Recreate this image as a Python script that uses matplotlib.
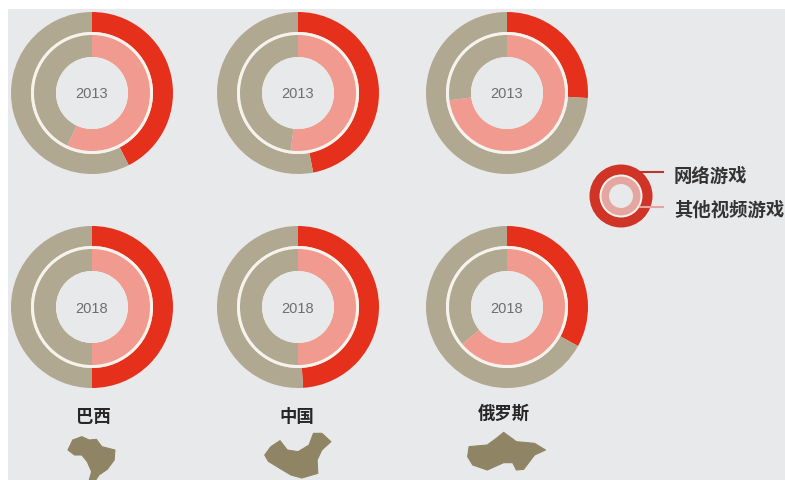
import matplotlib
matplotlib.use('Agg')
import matplotlib.pyplot as plt
from matplotlib.patches import Circle, Polygon, Rectangle

plt.rcParams['font.family'] = ['Noto Sans CJK SC', 'DejaVu Sans']

RED = '#E5301C'
PINK = '#F09A90'
TAN = '#B0A890'
BG = '#E8E9EB'
RING = '#F6F3EC'
MAP = '#8F8565'

# share of the ring, percent
countries = ['巴西', '中国', '俄罗斯']
online_2013 = [42.5, 47, 26]
other_2013 = [57, 52, 73]
online_2018 = [50, 49, 33]
other_2018 = [50, 50, 64]
years = ['2013', '2018']
legend_labels = ['网络游戏', '其他视频游戏']

# outlines of the little maps, in crop pixels (crop is 2.75x wide, 3x high)
brazil = [(187, 180), (200, 150), (225, 140), (245, 150), (265, 148), (280, 170), (316, 180), (314, 210),
          (295, 238), (272, 255), (262, 272), (245, 272), (252, 245), (240, 215), (225, 195), (205, 195)]
china = [(728, 195), (745, 170), (770, 152), (790, 180), (820, 185), (850, 165), (862, 130), (885, 130),
         (910, 155), (885, 180), (872, 210), (874, 250), (830, 264), (800, 255), (765, 232), (738, 214)]
russia = [(1290, 170), (1340, 165), (1365, 145), (1385, 127), (1420, 155), (1470, 160), (1500, 180),
          (1470, 195), (1440, 238), (1420, 240), (1410, 218), (1385, 218), (1340, 240), (1300, 225), (1286, 200)]

W, H = 785, 480
fig = plt.figure(figsize=(W / 100, H / 100), dpi=100)
ax = fig.add_axes([0, 0, 1, 1])


def donut(cx, cy, r_out, r_mid, r_ring, r_in, outer, inner, outer_col=RED):
    # cy is measured from the top of the picture
    y = H - cy
    ax.pie([outer, 100 - outer], colors=[outer_col, TAN], startangle=90, counterclock=False,
           radius=r_out, center=(cx, y), wedgeprops={'width': r_out - r_mid})
    ax.add_patch(Circle((cx, y), r_mid, fc=RING, ec='none', zorder=3))
    ax.pie([inner, 100 - inner], colors=[PINK, TAN], startangle=90, counterclock=False,
           radius=r_ring, center=(cx, y), wedgeprops={'width': r_ring - r_in, 'zorder': 4})
    ax.add_patch(Circle((cx, y), r_in, fc=BG, ec='none', zorder=5))


centers_x = [92, 298, 507]
for i in range(3):
    donut(centers_x[i], 93, 81, 61, 58, 36, online_2013[i], other_2013[i])
    ax.text(centers_x[i], H - 94, years[0], ha='center', va='center', fontsize=10.5,
            color='#6E6E70', zorder=6, family=['Liberation Sans'])
    donut(centers_x[i], 307, 81, 61, 58, 36, online_2018[i], other_2018[i])
    ax.text(centers_x[i], H - 309, years[1], ha='center', va='center', fontsize=10.5,
            color='#6E6E70', zorder=6, family=['Liberation Sans'])

# legend ring
ax.add_patch(Circle((621, H - 196), 31.5, fc='#CF3426', ec='none', zorder=2))
ax.add_patch(Circle((621, H - 196), 21.5, fc=RING, ec='none', zorder=3))
ax.add_patch(Circle((621, H - 196), 19.5, fc='#E5A5A0', ec='none', zorder=4))
ax.add_patch(Circle((621, H - 196), 12, fc=BG, ec='none', zorder=5))
ax.plot([640, 663], [H - 172, H - 172], color='#B8372C', lw=1.5, zorder=6)
ax.plot([640, 663], [H - 207, H - 207], color='#E5A5A0', lw=1.5, zorder=6)
ax.text(674, H - 176, legend_labels[0], ha='left', va='center', fontsize=13.2, color='#333333', fontweight='bold')
ax.text(674, H - 210, legend_labels[1], ha='left', va='center', fontsize=13.2, color='#333333', fontweight='bold')

# country names and maps
name_x = [93, 297, 504]
name_y = [417, 417, 414]
for nm, nx, ny in zip(countries, name_x, name_y):
    ax.text(nx, H - ny, nm, ha='center', va='center', fontsize=12.5, color='#262626', fontweight='bold')
for shape in [brazil, china, russia]:
    pts = [(px / 2.75, H - (390 + py / 3)) for px, py in shape]
    ax.add_patch(Polygon(pts, closed=True, fc=MAP, ec=MAP, lw=0.8, joinstyle='round'))

ax.set_xlim(0, W)
ax.set_ylim(0, H)
ax.set_aspect('auto')
ax.set_axis_on()
ax.set_xticks([])
ax.set_yticks([])
for s in ax.spines.values():
    s.set_visible(False)
ax.set_facecolor('white')
# grey panel, with the white strip left and on top
ax.add_patch(Rectangle((8, 0), W - 8, H - 9, fc=BG, ec='none', zorder=0))

fig.savefig('out.png', dpi=100, facecolor='white')
